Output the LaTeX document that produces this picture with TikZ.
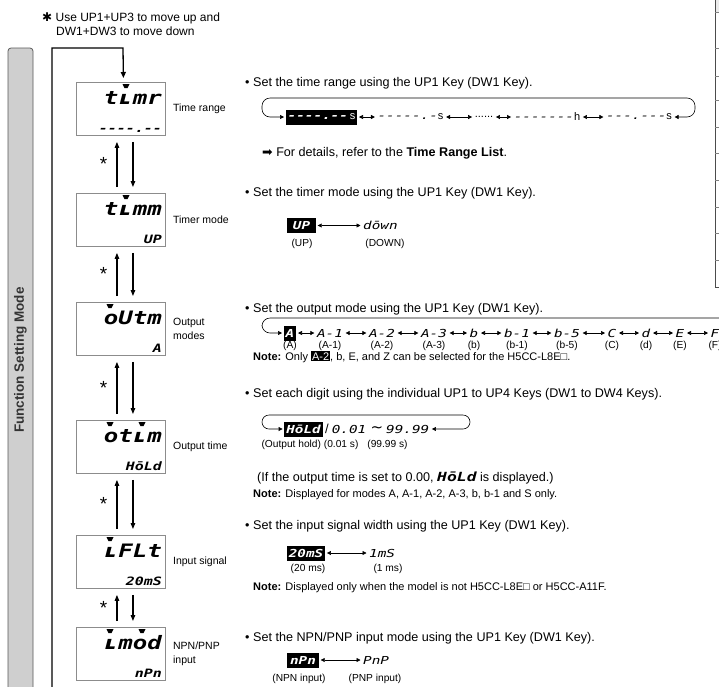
\documentclass[tikz,border=0pt]{standalone}
\usepackage{fontspec}
\setmainfont{Liberation Sans}
\newfontfamily\segfont[FakeStretch=1.3,Ligatures=TeXOff]{DejaVu Sans Mono}
\newfontfamily\symfont{DejaVu Sans}
\usetikzlibrary{arrows.meta,calc,positioning}
\setlength\fboxsep{1pt}

\tikzset{
  lcdbox/.style={draw=black!45, line width=0.9pt, minimum width=89pt, minimum height=53pt, inner sep=0pt},
  segbig/.style={inner sep=0pt, font=\segfont\bfseries\itshape\fontsize{18.5}{18}\selectfont},
  segsmall/.style={inner sep=0pt, font=\segfont\bfseries\itshape\fontsize{11.5}{12}\selectfont},
  segrow/.style={inner sep=1pt, font=\segfont\itshape\fontsize{11}{12}\selectfont},
  hilite/.style={segrow, fill=black, text=white, minimum height=15pt, inner xsep=2pt, font=\segfont\bfseries\itshape\fontsize{11}{12}\selectfont},
  bullet/.style={inner sep=0pt, anchor=base west, font=\fontsize{12.6}{15}\selectfont},
  note/.style={inner sep=0pt, anchor=base west, font=\fontsize{11}{13}\selectfont},
  paren/.style={inner sep=0pt, anchor=base, font=\fontsize{10.2}{12}\selectfont},
  side/.style={inner sep=0pt, align=left, font=\fontsize{10.5}{14}\selectfont},
  updown/.style={-{Triangle[length=6pt,width=4.5pt]}, line width=1.1pt, shorten <=6pt, shorten >=6pt},
  dblarr/.style={{Triangle[length=4pt,width=4pt]}-{Triangle[length=4pt,width=4pt]}, line width=0.6pt, shorten <=1.5pt, shorten >=1.5pt},
  cycleln/.style={dblarr, rounded corners=8pt},
}

% one LCD panel: name, top y, upper text, lower text, indicator x list
\newcommand\lcdpanel[5]{%
  \node[lcdbox, anchor=north west] (#1) at (76,#2) {};
  \node[segbig, anchor=base east] at (162,#2+22) {#3};
  \node[segsmall, anchor=base east] at (162,#2+50) {#4};
  \foreach \m in {#5}
    \fill (\m-3.5,#2+2) -- (\m+3.5,#2+2) -- (\m+1.5,#2+6) -- (\m-1.5,#2+6) -- cycle;
}

\begin{document}
\begin{tikzpicture}[x=1pt,y=-1pt]
  \clip (0,0) rectangle (719,686);

  % side bar
  \draw[fill=black!19, draw=black!65, line width=0.8pt, rounded corners=3pt]
    (8,700) -- (8,48) -- (33,48) -- (33,700);
  \node[rotate=90, font=\bfseries\fontsize{13.5}{16}\selectfont, text=black!80] at (20.5,360) {Function Setting Mode};

  % top note
  \node[bullet, font=\fontsize{12}{14}\selectfont] at (42,21) {{\symfont ✱} Use UP1+UP3 to move up and};
  \node[bullet, font=\fontsize{12}{14}\selectfont] at (56,35) {DW1+DW3 to move down};

  % panels
  \lcdpanel{b1}{82}{tʟmr}{----.--}{126}
  \lcdpanel{b2}{193}{tʟmm}{UP}{126}
  \lcdpanel{b3}{302}{oUtm}{A}{110}
  \lcdpanel{b4}{420}{otʟm}{HōLd}{110,142}
  \lcdpanel{b5}{535}{ʟFLt}{20mS}{110}
  \lcdpanel{b6}{627}{ʟmod}{nPn}{110,142}

  \node[side, right=7pt of b1] {Time range};
  \node[side, right=7pt of b2] {Timer mode};
  \node[side, right=7pt of b3] {Output\\modes};
  \node[side, right=7pt of b4] {Output time};
  \node[side, right=7pt of b5] {Input signal};
  \node[side, right=7pt of b6] {NPN/PNP\\input};

  \foreach \a/\b in {b1/b2,b2/b3,b3/b4,b4/b5,b5/b6} {
    \draw[updown] ([xshift=-4pt]\b.north) -- ([xshift=-4pt]\a.south);
    \draw[updown] ([xshift=12pt]\a.south) -- ([xshift=12pt]\b.north);
    \node[inner sep=0pt, font=\fontsize{19}{19}\selectfont, xshift=-17.5pt] at ($(\a.south)!0.5!(\b.north)$) {*};
  }

  % return path
  \coordinate (back) at (52,700);
  \draw[line width=1.3pt, -{Triangle[length=6pt,width=5pt]}, shorten >=4pt]
    (back) |- (123,48) -- ([xshift=2.5pt]b1.north);

  % time range
  \node[bullet] at (245,86) {• Set the time range using the UP1 Key (DW1 Key).};
  \node[hilite, minimum width=69pt] (tr1) at (321.5,117) {----.--\,{\normalfont s}};
  \node[segrow] (tr2) at (410.5,117) {-----.-{\normalfont s}};
  \node[inner sep=1pt, font=\fontsize{11}{12}\selectfont] (tr3) at (484,117) {......};
  \node[segrow] (tr4) at (547,117) {-------{\normalfont h}};
  \node[segrow] (tr5) at (639,117) {---.---{\normalfont s}};
  \foreach \a/\b in {tr1/tr2,tr2/tr3,tr3/tr4,tr4/tr5}
    \draw[dblarr] (\a) -- (\b);
  \draw[cycleln] (tr1.west) -- (262,117) -- (262,98) -- (695,98) -- (695,117) -- (tr5.east);
  \node[bullet] at (262,156) {{\symfont ➡} For details, refer to the \textbf{Time Range List}.};

  % timer mode
  \node[bullet] at (245,196) {• Set the timer mode using the UP1 Key (DW1 Key).};
  \node[hilite, minimum width=29pt] (tm1) at (301.5,225.5) {UP};
  \node[segrow, anchor=west] (tm2) at (362,225.5) {dōwn};
  \draw[dblarr] (tm1) -- (tm2);
  \node[paren] at (302,246.5) {(UP)};
  \node[paren] at (385,246.5) {(DOWN)};

  % output modes
  \node[bullet] at (245,312) {• Set the output mode using the UP1 Key (DW1 Key).};
  \node[hilite] (om1) at (290,333) {A};
  \foreach \t/\x [count=\i from 2] in {A-1/330,A-2/382,A-3/434,b/474,b-1/517,b-5/567,C/612,d/646,E/680,F/715}
    \node[segrow] (om\i) at (\x,333) {\t};
  \foreach \t/\x in {A/290,A-1/330,A-2/382,A-3/434,b/474,b-1/517,b-5/567,C/612,d/646,E/680,F/715}
    \node[paren] at (\x,348) {(\t)};
  \foreach \i [evaluate=\i as \j using int(\i+1)] in {1,...,10}
    \draw[dblarr] (om\i) -- (om\j);
  \draw[{Triangle[length=4pt,width=4pt]}-, line width=0.6pt, rounded corners=8pt, shorten <=1.5pt]
    (om1.west) -- (262,333) -- (262,318) -- (730,318);
  \node[note] at (253,360) {\textbf{Note:} Only \colorbox{black}{\textcolor{white}{A-2}}, b, E, and Z can be selected for the H5CC-L8E□.};

  % output time
  \node[bullet] at (245,397) {• Set each digit using the individual UP1 to UP4 Keys (DW1 to DW4 Keys).};
  \node[hilite] (ot1) at (303.5,429) {HōLd};
  \node[segrow, anchor=west] (ot2) at (324,429) {{\normalfont\fontsize{13}{13}\selectfont /}\hspace{3pt}0.01};
  \node[inner sep=0pt, font=\symfont\fontsize{15}{15}\selectfont] (ot3) at (377,429) {∼};
  \node[segrow, anchor=west] (ot4) at (385,429) {99.99};
  \draw[cycleln, rounded corners=7pt] (ot1.west) -- (262,429) -- (262,415) -- (470,415) -- (470,429) -- (ot4.east);
  \node[paren] at (310,447) {(Output hold) (0.01 s)};
  \node[paren] at (387.5,447) {(99.99 s)};
  \node[bullet] at (257,481.5) {(If the output time is set to 0.00, {\segfont\bfseries\itshape HōLd} is displayed.)};
  \node[note] at (253,497) {\textbf{Note:} Displayed for modes A, A-1, A-2, A-3, b, b-1 and S only.};

  % input signal
  \node[bullet] at (245,529) {• Set the input signal width using the UP1 Key (DW1 Key).};
  \node[hilite, minimum width=38pt] (is1) at (306,553) {20mS};
  \node[segrow, anchor=west] (is2) at (368,553) {1mS};
  \draw[dblarr] (is1) -- (is2);
  \node[paren] at (308,571.5) {(20 ms)};
  \node[paren] at (388,571.5) {(1 ms)};
  \node[note] at (253,590.5) {\textbf{Note:} Displayed only when the model is not H5CC-L8E□ or H5CC-A11F.};

  % NPN/PNP input
  \node[bullet] at (245,641) {• Set the NPN/PNP input mode using the UP1 Key (DW1 Key).};
  \node[hilite, minimum width=32pt] (np1) at (303,660) {nPn};
  \node[segrow, anchor=west] (np2) at (362,660) {PnP};
  \draw[dblarr] (np1) -- (np2);
  \node[paren] at (299,681) {(NPN input)};
  \node[paren] at (375,681) {(PNP input)};

  % edge of the neighbouring table
  \fill[black!8] (715.5,0) rectangle (719,12);
  \draw[black!70, line width=0.8pt] (715,0) -- (715,287) -- (719,287);
  \foreach \y in {12,48,76,100,127,153,180,207,233,260}
    \draw[black!50, line width=0.6pt] (715,\y) -- (719,\y);
\end{tikzpicture}
\end{document}
